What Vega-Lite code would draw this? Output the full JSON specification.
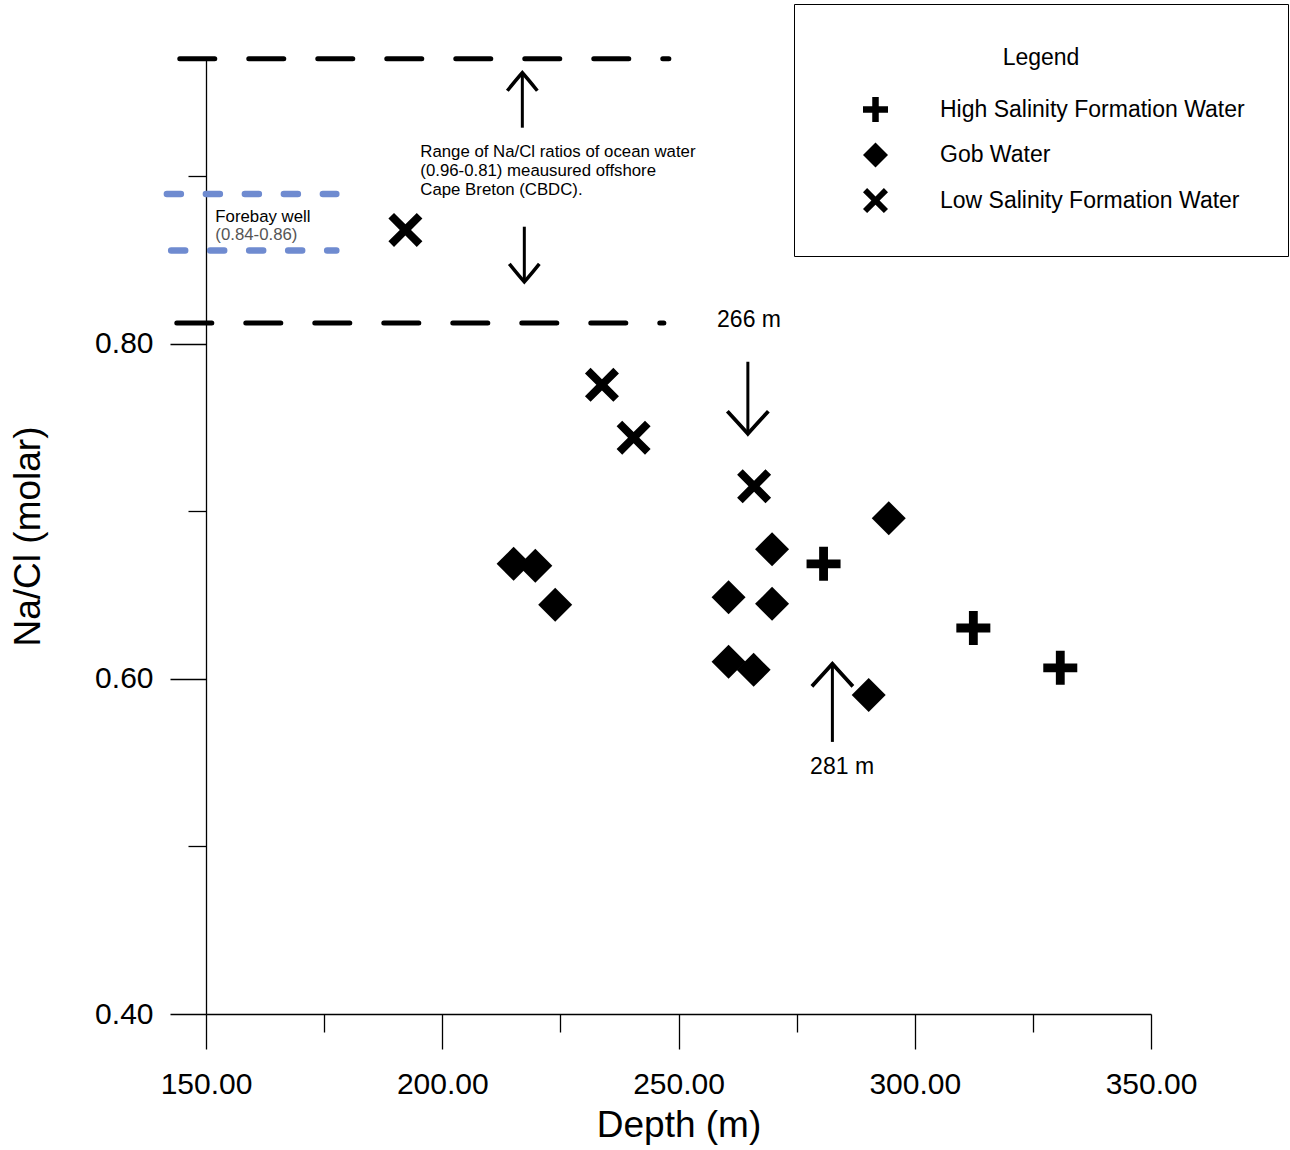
{
  "$schema": "https://vega.github.io/schema/vega-lite/v6.json",
  "width": 945,
  "height": 955,
  "autosize": {"type": "none"},
  "padding": {"left": 206, "top": 59, "right": 139, "bottom": 136},
  "background": "white",
  "config": {
    "view": {"stroke": null},
    "font": "Liberation Sans",
    "axis": {
      "grid": false,
      "domainColor": "black",
      "domainWidth": 1.3,
      "tickColor": "black",
      "tickWidth": 1.3,
      "labelColor": "black",
      "titleColor": "black",
      "labelFont": "Liberation Sans",
      "titleFont": "Liberation Sans",
      "titleFontWeight": "normal",
      "labelFlush": false,
      "labelOverlap": false
    }
  },
  "datasets": {
    "samples": [
      {"type": "Low Salinity Formation Water", "depth": 192.2, "ratio": 0.868},
      {"type": "Low Salinity Formation Water", "depth": 233.8, "ratio": 0.7755},
      {"type": "Low Salinity Formation Water", "depth": 240.5, "ratio": 0.744},
      {"type": "Low Salinity Formation Water", "depth": 266.0, "ratio": 0.715},
      {"type": "Gob Water", "depth": 215.1, "ratio": 0.6687},
      {"type": "Gob Water", "depth": 219.7, "ratio": 0.6675},
      {"type": "Gob Water", "depth": 223.9, "ratio": 0.6442},
      {"type": "Gob Water", "depth": 260.6, "ratio": 0.6488},
      {"type": "Gob Water", "depth": 269.8, "ratio": 0.6774},
      {"type": "Gob Water", "depth": 269.8, "ratio": 0.6448},
      {"type": "Gob Water", "depth": 260.6, "ratio": 0.6103},
      {"type": "Gob Water", "depth": 265.9, "ratio": 0.6054},
      {"type": "Gob Water", "depth": 290.25, "ratio": 0.5904},
      {"type": "Gob Water", "depth": 294.5, "ratio": 0.6959},
      {"type": "High Salinity Formation Water", "depth": 280.7, "ratio": 0.6687},
      {"type": "High Salinity Formation Water", "depth": 312.4, "ratio": 0.6304},
      {"type": "High Salinity Formation Water", "depth": 330.8, "ratio": 0.6066}
    ],
    "ocean": [
      {"bound": "upper 0.96", "from": 144.45, "to": 247.96, "ratio": 0.9701},
      {"bound": "lower 0.81", "from": 143.82, "to": 246.9, "ratio": 0.8124}
    ],
    "forebay": [
      {"bound": "upper", "from": 141.72, "to": 177.58, "ratio": 0.8894},
      {"bound": "lower", "from": 142.63, "to": 177.58, "ratio": 0.8557}
    ],
    "arrows": [
      {"name": "ocean up", "kind": "ocean", "dir": "up", "depth": 216.95, "tail": 0.929, "tip": 0.9618},
      {"name": "ocean down", "kind": "ocean", "dir": "down", "depth": 217.37, "tail": 0.8699, "tip": 0.837},
      {"name": "266 m", "kind": "depth", "dir": "down", "depth": 264.68, "tail": 0.7893, "tip": 0.7463},
      {"name": "281 m", "kind": "depth", "dir": "up", "depth": 282.57, "tail": 0.5624, "tip": 0.609}
    ],
    "notes": [
      {"text": "Range of Na/Cl ratios of ocean water", "depth": 195.36, "ratio": 0.9146},
      {"text": "(0.96-0.81) meausured offshore", "depth": 195.36, "ratio": 0.9033},
      {"text": "Cape Breton (CBDC).", "depth": 195.36, "ratio": 0.8919},
      {"text": "Forebay well", "depth": 151.97, "ratio": 0.8758}
    ],
    "notes_gray": [
      {"text": "(0.84-0.86)", "depth": 151.97, "ratio": 0.8647}
    ],
    "depth_labels": [
      {"text": "266 m", "depth": 264.93, "ratio": 0.8143},
      {"text": "281 m", "depth": 284.62, "ratio": 0.5475}
    ]
  },
  "resolve": {"axis": {"x": "independent", "y": "independent"}},
  "layer": [
    {
      "data": {"name": "ocean"},
      "mark": {"type": "rule", "color": "black", "strokeWidth": 5, "strokeDash": [35, 34], "strokeCap": "round"},
      "encoding": {
        "x": {"field": "from", "type": "quantitative", "scale": {"domain": [150, 350], "nice": false, "zero": false},
          "axis": {"orient": "bottom", "values": [150, 200, 250, 300, 350], "format": ".2f", "tickSize": 35, "labelPadding": 20, "labelFontSize": 30,
            "title": "Depth (m)", "titleFontSize": 37, "titleY": 122, "titleBaseline": "alphabetic"}},
        "x2": {"field": "to"},
        "y": {"field": "ratio", "type": "quantitative", "scale": {"domain": [0.4, 0.97], "nice": false, "zero": false},
          "axis": {"orient": "left", "values": [0.4, 0.6, 0.8], "format": ".2f", "tickSize": 36, "labelPadding": 17, "labelFontSize": 30,
            "title": "Na/Cl (molar)", "titleFontSize": 37, "titleX": -178, "titleY": 477, "titleBaseline": "middle", "titleAngle": -90}}
      }
    },
    {
      "data": {"name": "forebay"},
      "mark": {"type": "rule", "color": "#6f8bd0", "strokeWidth": 6.5, "strokeDash": [14, 25], "strokeCap": "round"},
      "encoding": {
        "x": {"field": "from", "type": "quantitative", "scale": {"domain": [150, 350], "nice": false, "zero": false},
          "axis": {"orient": "bottom", "values": [175, 225, 275, 325], "tickSize": 18, "labels": false, "domain": false, "title": null}},
        "x2": {"field": "to"},
        "y": {"field": "ratio", "type": "quantitative", "scale": {"domain": [0.4, 0.97], "nice": false, "zero": false},
          "axis": {"orient": "left", "values": [0.5, 0.7, 0.9], "tickSize": 18, "labels": false, "domain": false, "title": null}}
      }
    },
    {
      "data": {"name": "arrows"},
      "mark": {"type": "rule", "color": "black", "strokeWidth": 3},
      "encoding": {
        "x": {"field": "depth", "type": "quantitative", "scale": {"domain": [150, 350], "nice": false, "zero": false}, "axis": null},
        "y": {"field": "tail", "type": "quantitative", "scale": {"domain": [0.4, 0.97], "nice": false, "zero": false}, "axis": null},
        "y2": {"field": "tip"}
      }
    },
    {
      "data": {"name": "arrows"},
      "transform": [{"filter": "datum.kind === 'ocean'"}],
      "mark": {"type": "point", "filled": false, "color": "black", "opacity": 1, "strokeWidth": 3.5, "size": 900,
        "shape": "M-1,1.2 Q-0.4,0.45 0,0 Q0.4,0.45 1,1.2"},
      "encoding": {
        "x": {"field": "depth", "type": "quantitative", "scale": {"domain": [150, 350], "nice": false, "zero": false}, "axis": null},
        "y": {"field": "tip", "type": "quantitative", "scale": {"domain": [0.4, 0.97], "nice": false, "zero": false}, "axis": null},
        "angle": {"condition": {"test": "datum.dir === 'down'", "value": 180}, "value": 0}
      }
    },
    {
      "data": {"name": "arrows"},
      "transform": [{"filter": "datum.kind === 'depth'"}],
      "mark": {"type": "point", "filled": false, "color": "black", "opacity": 1, "strokeWidth": 3.8, "size": 1681,
        "shape": "M-1,1.1 Q-0.4,0.45 0,0 Q0.4,0.45 1,1.1"},
      "encoding": {
        "x": {"field": "depth", "type": "quantitative", "scale": {"domain": [150, 350], "nice": false, "zero": false}, "axis": null},
        "y": {"field": "tip", "type": "quantitative", "scale": {"domain": [0.4, 0.97], "nice": false, "zero": false}, "axis": null},
        "angle": {"condition": {"test": "datum.dir === 'down'", "value": 180}, "value": 0}
      }
    },
    {
      "data": {"name": "notes"},
      "mark": {"type": "text", "align": "left", "baseline": "middle", "fontSize": 16.8, "color": "black"},
      "encoding": {
        "x": {"field": "depth", "type": "quantitative", "scale": {"domain": [150, 350], "nice": false, "zero": false}, "axis": null},
        "y": {"field": "ratio", "type": "quantitative", "scale": {"domain": [0.4, 0.97], "nice": false, "zero": false}, "axis": null},
        "text": {"field": "text"}
      }
    },
    {
      "data": {"name": "notes_gray"},
      "mark": {"type": "text", "align": "left", "baseline": "middle", "fontSize": 16.8, "color": "#555555"},
      "encoding": {
        "x": {"field": "depth", "type": "quantitative", "scale": {"domain": [150, 350], "nice": false, "zero": false}, "axis": null},
        "y": {"field": "ratio", "type": "quantitative", "scale": {"domain": [0.4, 0.97], "nice": false, "zero": false}, "axis": null},
        "text": {"field": "text"}
      }
    },
    {
      "data": {"name": "depth_labels"},
      "mark": {"type": "text", "align": "center", "baseline": "middle", "fontSize": 23, "color": "black"},
      "encoding": {
        "x": {"field": "depth", "type": "quantitative", "scale": {"domain": [150, 350], "nice": false, "zero": false}, "axis": null},
        "y": {"field": "ratio", "type": "quantitative", "scale": {"domain": [0.4, 0.97], "nice": false, "zero": false}, "axis": null},
        "text": {"field": "text"}
      }
    },
    {
      "data": {"name": "samples"},
      "mark": {"type": "point", "filled": true, "color": "black", "opacity": 1, "size": 1156, "strokeWidth": 0},
      "encoding": {
        "x": {"field": "depth", "type": "quantitative", "scale": {"domain": [150, 350], "nice": false, "zero": false}, "axis": null},
        "y": {"field": "ratio", "type": "quantitative", "scale": {"domain": [0.4, 0.97], "nice": false, "zero": false}, "axis": null},
        "shape": {
          "field": "type", "type": "nominal",
          "scale": {
            "domain": ["High Salinity Formation Water", "Gob Water", "Low Salinity Formation Water"],
            "range": [
              "M-0.26,-1H0.26V-0.26H1V0.26H0.26V1H-0.26V0.26H-1V-0.26H-0.26Z",
              "M0,-1L1,0L0,1L-1,0Z",
              "M0,-0.33L0.67,-1L1,-0.67L0.33,0L1,0.67L0.67,1L0,0.33L-0.67,1L-1,0.67L-0.33,0L-1,-0.67L-0.67,-1Z"
            ]
          },
          "legend": {
            "orient": "none", "legendX": 588, "legendY": -55,
            "title": "Legend", "titleFontSize": 23, "titleFontWeight": "normal", "titleColor": "black", "titleAnchor": "middle", "titlePadding": 27,
            "padding": 43, "strokeColor": "black", "fillColor": "white",
            "symbolSize": 625, "symbolFillColor": "black", "symbolStrokeWidth": 0, "symbolOffset": 26,
            "labelFontSize": 23, "labelColor": "black", "labelOffset": 52, "labelLimit": 500,
            "rowPadding": 20.5
          }
        }
      }
    }
  ]
}
